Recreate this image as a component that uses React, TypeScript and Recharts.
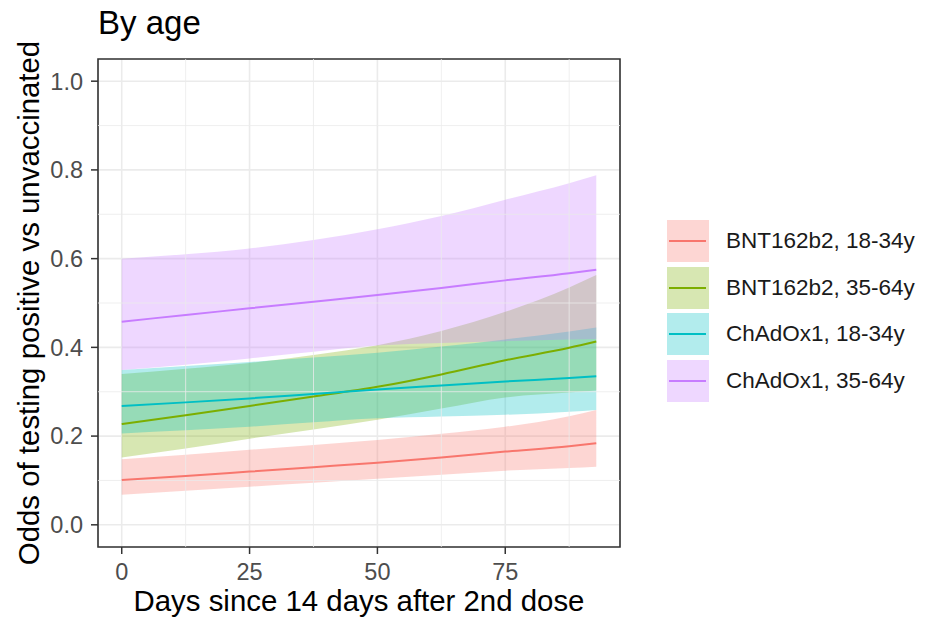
import React from 'react'
import {
  ComposedChart,
  Area,
  Line,
  XAxis,
  YAxis,
  CartesianGrid,
  ReferenceLine,
  ReferenceArea,
  Label,
} from 'recharts'

// days since 14 days after 2nd dose
const days = [0, 12.5, 25, 37.5, 50, 62.5, 75, 87.5, 92.8]

// BNT162b2, 18-34y
const bntYoungFit = [0.101, 0.11, 0.12, 0.13, 0.14, 0.152, 0.165, 0.177, 0.184]
const bntYoungLo = [0.068, 0.077, 0.086, 0.095, 0.104, 0.113, 0.122, 0.128, 0.131]
const bntYoungHi = [0.148, 0.158, 0.169, 0.18, 0.191, 0.205, 0.221, 0.245, 0.259]

// BNT162b2, 35-64y
const bntOldFit = [0.227, 0.247, 0.268, 0.289, 0.311, 0.339, 0.371, 0.399, 0.413]
const bntOldLo = [0.152, 0.172, 0.194, 0.215, 0.237, 0.262, 0.287, 0.298, 0.303]
const bntOldHi = [0.34, 0.352, 0.365, 0.383, 0.405, 0.437, 0.48, 0.535, 0.563]

// ChAdOx1, 18-34y
const azYoungFit = [0.268, 0.276, 0.285, 0.295, 0.305, 0.314, 0.323, 0.331, 0.335]
const azYoungLo = [0.206, 0.213, 0.221, 0.231, 0.24, 0.244, 0.248, 0.255, 0.259]
const azYoungHi = [0.349, 0.358, 0.367, 0.377, 0.388, 0.402, 0.418, 0.436, 0.445]

// ChAdOx1, 35-64y
const azOldFit = [0.458, 0.473, 0.488, 0.503, 0.518, 0.534, 0.551, 0.567, 0.575]
const azOldLo = [0.349, 0.361, 0.375, 0.39, 0.404, 0.41, 0.414, 0.418, 0.419]
const azOldHi = [0.6, 0.61, 0.623, 0.642, 0.666, 0.696, 0.733, 0.77, 0.788]

const xTicks = [0, 25, 50, 75]
const xMinor = [12.5, 37.5, 62.5, 87.5]
const yTicks = [0, 0.2, 0.4, 0.6, 0.8, 1.0]
const yMinor = [0.1, 0.3, 0.5, 0.7, 0.9]

const series = [
  { key: 'bntYoung', name: 'BNT162b2, 18-34y', color: '#F8766D', fit: bntYoungFit, lo: bntYoungLo, hi: bntYoungHi },
  { key: 'bntOld', name: 'BNT162b2, 35-64y', color: '#7CAE00', fit: bntOldFit, lo: bntOldLo, hi: bntOldHi },
  { key: 'azYoung', name: 'ChAdOx1, 18-34y', color: '#00BFC4', fit: azYoungFit, lo: azYoungLo, hi: azYoungHi },
  { key: 'azOld', name: 'ChAdOx1, 35-64y', color: '#C77CFF', fit: azOldFit, lo: azOldLo, hi: azOldHi },
]

const data = days.map((d, i) => {
  const row: any = { day: d }
  series.forEach((s) => {
    row[s.key] = s.fit[i]
    row[s.key + 'Band'] = [s.lo[i], s.hi[i]]
  })
  return row
})

const FONT = '"Liberation Sans", Arial, Helvetica, sans-serif'
const X_DOMAIN = [-4.64, 97.44]
const Y_DOMAIN = [-0.05, 1.05]

const YTitle = (props: any) => {
  const vb = props.viewBox || { x: 0, y: 59, width: 98, height: 488 }
  const cx = vb.x + 28.5
  const cy = vb.y + vb.height / 2
  return (
    <text
      x={cx}
      y={cy}
      transform={`rotate(-90 ${cx} ${cy})`}
      textAnchor="middle"
      dominantBaseline="central"
      fontSize={29.4}
      fontFamily={FONT}
      fill="#000"
    >
      Odds of testing positive vs unvaccinated
    </text>
  )
}

const XTitle = (props: any) => {
  const vb = props.viewBox || { x: 98, y: 547, width: 522, height: 76 }
  return (
    <text
      x={vb.x + vb.width / 2}
      y={vb.y + 53}
      textAnchor="middle"
      dominantBaseline="central"
      fontSize={29.4}
      fontFamily={FONT}
      fill="#000"
    >
      Days since 14 days after 2nd dose
    </text>
  )
}

const LegendBox = () => (
  <div style={{ position: 'absolute', left: 667, top: 220, fontFamily: FONT }}>
    {series.map((s) => (
      <div key={s.key} style={{ display: 'flex', alignItems: 'center', height: 42, marginBottom: 4.5 }}>
        <svg width={42} height={42} style={{ display: 'block' }}>
          <rect x={0} y={0} width={42} height={42} fill={s.color} fillOpacity={0.3} />
          <line x1={2} x2={39} y1={21} y2={21} stroke={s.color} strokeWidth={2} />
        </svg>
        <span style={{ marginLeft: 17, fontSize: 22.5, color: '#1A1A1A', whiteSpace: 'nowrap' }}>{s.name}</span>
      </div>
    ))}
  </div>
)

export default function App() {
  return (
    <div style={{ position: 'absolute', left: 0, top: 0, width: 940, height: 623, background: '#fff' }}>
      <div
        style={{
          position: 'absolute',
          left: 98,
          top: 3,
          fontFamily: FONT,
          fontSize: 33,
          color: '#000',
          lineHeight: '40px',
        }}
      >
        By age
      </div>
      <ComposedChart
        width={940}
        height={623}
        data={data}
        margin={{ top: 59, right: 320, bottom: 0, left: 0 }}
        style={{ fontFamily: FONT }}
      >
        <CartesianGrid stroke="#EBEBEB" strokeWidth={1.6} />
        {yMinor.map((v) => (
          <ReferenceLine key={'ym' + v} y={v} stroke="#EBEBEB" strokeWidth={0.8} />
        ))}
        {xMinor.map((v) => (
          <ReferenceLine key={'xm' + v} x={v} stroke="#EBEBEB" strokeWidth={0.8} />
        ))}
        <XAxis
          dataKey="day"
          type="number"
          domain={X_DOMAIN}
          ticks={xTicks}
          allowDataOverflow
          height={76}
          axisLine={false}
          tickSize={7}
          tickMargin={9}
          tickLine={{ stroke: '#333333', strokeWidth: 1.5 }}
          tick={{ fill: '#4D4D4D', fontSize: 23.5, fontFamily: FONT }}
        >
          <Label content={XTitle} />
        </XAxis>
        <YAxis
          type="number"
          domain={Y_DOMAIN}
          ticks={yTicks}
          allowDataOverflow
          width={98}
          axisLine={false}
          tickSize={7}
          tickMargin={8}
          tickLine={{ stroke: '#333333', strokeWidth: 1.5 }}
          tick={{ fill: '#4D4D4D', fontSize: 23.5, fontFamily: FONT }}
          tickFormatter={(v: number) => v.toFixed(1)}
        >
          <Label content={YTitle} />
        </YAxis>
        {series.map((s) => (
          <Area
            key={s.key + 'Band'}
            dataKey={s.key + 'Band'}
            type="monotone"
            stroke="none"
            fill={s.color}
            fillOpacity={0.3}
            isAnimationActive={false}
            activeDot={false}
          />
        ))}
        {series.map((s) => (
          <Line
            key={s.key}
            dataKey={s.key}
            name={s.name}
            type="monotone"
            stroke={s.color}
            strokeWidth={2}
            dot={false}
            activeDot={false}
            isAnimationActive={false}
          />
        ))}
        <ReferenceArea
          x1={X_DOMAIN[0]}
          x2={X_DOMAIN[1]}
          y1={Y_DOMAIN[0]}
          y2={Y_DOMAIN[1]}
          fill="none"
          stroke="#333333"
          strokeWidth={1.6}
        />
      </ComposedChart>
      <LegendBox />
    </div>
  )
}
